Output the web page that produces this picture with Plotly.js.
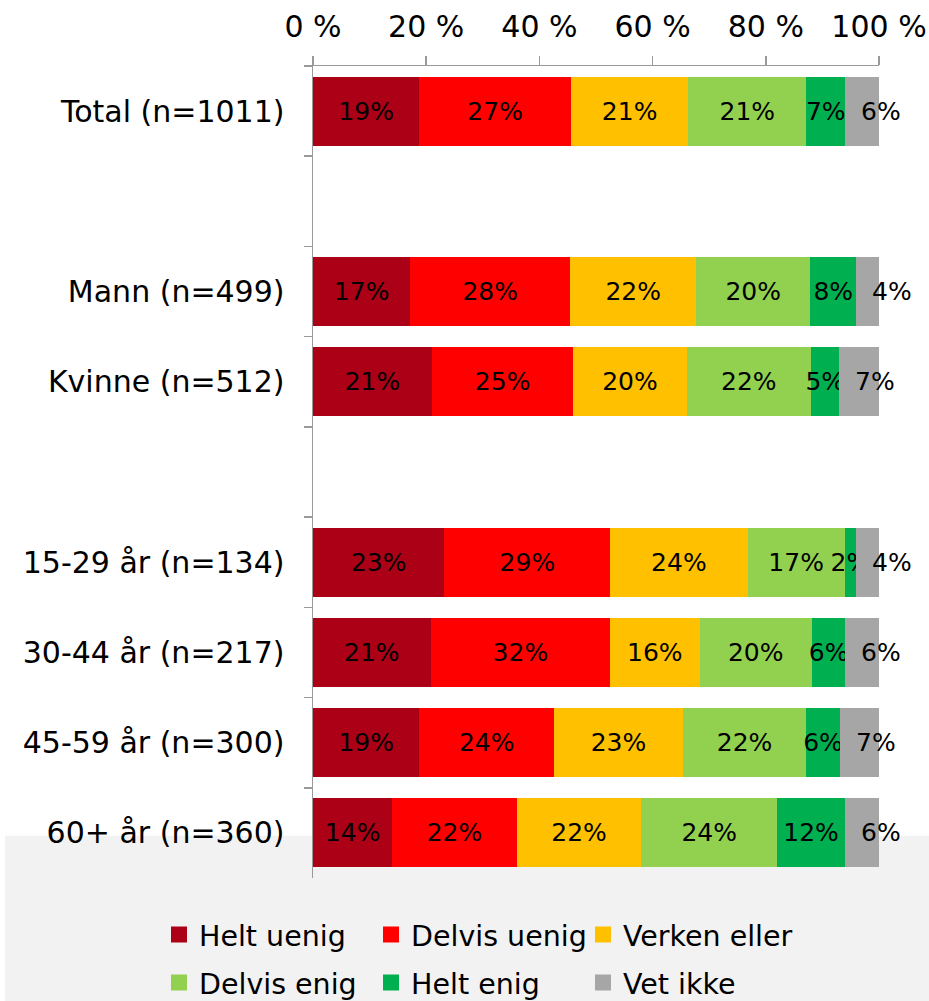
<!DOCTYPE html>
<html>
<head>
<meta charset="utf-8">
<script src="https://cdn.plot.ly/plotly-3.0.1.min.js"></script>
<style>html,body{margin:0;padding:0;background:#fff;}#chart{width:929px;height:1001px;}</style>
</head>
<body>
<div id="chart"></div>
<script>
// Categories (blank rows are spacers between groups)
var categories = ['Total (n=1011)', ' ', 'Mann (n=499)', 'Kvinne (n=512)', '  ',
  '15-29 år (n=134)', '30-44 år (n=217)', '45-59 år (n=300)', '60+ år (n=360)'];

var seriesNames = ['Helt uenig', 'Delvis uenig', 'Verken eller', 'Delvis enig', 'Helt enig', 'Vet ikke'];
var seriesColors = ['#AC0016', '#FF0000', '#FFC000', '#92D050', '#00B050', '#A6A6A6'];

var heltUenig   = [19, null, 17, 21, null, 23, 21, 19, 14];
var delvisUenig = [27, null, 28, 25, null, 29, 32, 24, 22];
var verkenEller = [21, null, 22, 20, null, 24, 16, 23, 22];
var delvisEnig  = [21, null, 20, 22, null, 17, 20, 22, 24];
var heltEnig    = [7,  null, 8,  5,  null, 2,  6,  6,  12];
var vetIkke     = [6,  null, 4,  7,  null, 4,  6,  7,  6];

var xTickVals = [0, 20, 40, 60, 80, 100];
var xTickText = ['0 %', '20 %', '40 %', '60 %', '80 %', '100 %'];

var series = [heltUenig, delvisUenig, verkenEller, delvisEnig, heltEnig, vetIkke];
var FONT = 'Verdana, "DejaVu Sans", sans-serif';
var LAST = series.length - 1;

var traces = [];
series.forEach(function (vals, i) {
  traces.push({
    type: 'bar',
    orientation: 'h',
    name: seriesNames[i],
    y: categories,
    x: vals,
    text: vals.map(function (v) { return (v === null || i === LAST) ? '' : v + '%'; }),
    textposition: 'inside',
    insidetextanchor: 'middle',
    textangle: 0,
    constraintext: 'none',
    cliponaxis: false,
    textfont: {family: FONT, size: 25, color: '#000'},
    marker: {color: seriesColors[i], line: {width: 0}},
    hoverinfo: 'skip',
    showlegend: false
  });
});

// legend: 3 columns x 2 rows, one legend box per entry
var legendCols = [-0.2721, 0.1025, 0.477];
var legendRows = [-0.0702, -0.1293];
var legendBase = {
  orientation: 'h',
  xanchor: 'left',
  yanchor: 'middle',
  bgcolor: 'rgba(0,0,0,0)',
  borderwidth: 0,
  font: {family: FONT, size: 28.5, color: '#000'}
};
var legendLayouts = {};
seriesNames.forEach(function (n, i) {
  var key = i === 0 ? 'legend' : 'legend' + (i + 1);
  legendLayouts[key] = Object.assign({}, legendBase, {x: legendCols[i % 3], y: legendRows[Math.floor(i / 3)]});
  traces.push({
    type: 'scatter',
    mode: 'markers',
    name: n,
    x: [null],
    y: [null],
    marker: {symbol: 'square', size: 16, color: seriesColors[i]},
    legend: key,
    showlegend: true
  });
});

// labels of the last (grey) series sit just to the right of the segment start
var annotations = [];
categories.forEach(function (c, r) {
  var v = vetIkke[r];
  if (v === null) return;
  var total = 0, before = 0;
  series.forEach(function (s, i) { total += s[r]; if (i < LAST) before += s[r]; });
  annotations.push({
    xref: 'x', yref: 'y', x: before / total * 100, y: c,
    xanchor: 'left', yanchor: 'middle', xshift: 14,
    text: v + '%', showarrow: false,
    font: {family: FONT, size: 25, color: '#000'}
  });
});

var layout = {
  width: 929,
  height: 1001,
  margin: {l: 313, r: 50, t: 66, b: 123, pad: 0, autoexpand: false},
  paper_bgcolor: '#ffffff',
  plot_bgcolor: 'rgba(0,0,0,0)',
  barmode: 'stack',
  barnorm: 'percent',
  bargap: 0.235,
  font: {family: FONT, size: 30, color: '#000'},
  uniformtext: {mode: 'show', minsize: 25},
  xaxis: {
    side: 'top',
    range: [0, 100],
    tickvals: xTickVals,
    ticktext: xTickText,
    ticks: 'outside',
    ticklen: 9,
    tickwidth: 1.5,
    tickcolor: '#999999',
    showline: true,
    linecolor: '#999999',
    linewidth: 1.5,
    showgrid: false,
    zeroline: false,
    tickfont: {family: FONT, size: 30, color: '#000'},
    ticklabelstandoff: 7,
    fixedrange: true
  },
  yaxis: {
    type: 'category',
    autorange: 'reversed',
    ticks: 'outside',
    tickson: 'boundaries',
    ticklen: 8,
    tickwidth: 1.5,
    tickcolor: '#999999',
    showline: true,
    linecolor: '#999999',
    linewidth: 1.5,
    showgrid: false,
    zeroline: false,
    tickfont: {family: FONT, size: 30, color: '#000'},
    ticklabelstandoff: 21,
    fixedrange: true
  },
  annotations: annotations,
  shapes: [{
    type: 'rect', xref: 'paper', yref: 'paper', layer: 'below',
    x0: -0.544, x1: 1.12, y0: 0.052, y1: -0.2,
    fillcolor: '#F2F2F2', line: {width: 0}
  }],
  showlegend: true
};
Object.assign(layout, legendLayouts);

Plotly.newPlot('chart', traces, layout, {displayModeBar: false, staticPlot: true});
</script>
</body>
</html>
